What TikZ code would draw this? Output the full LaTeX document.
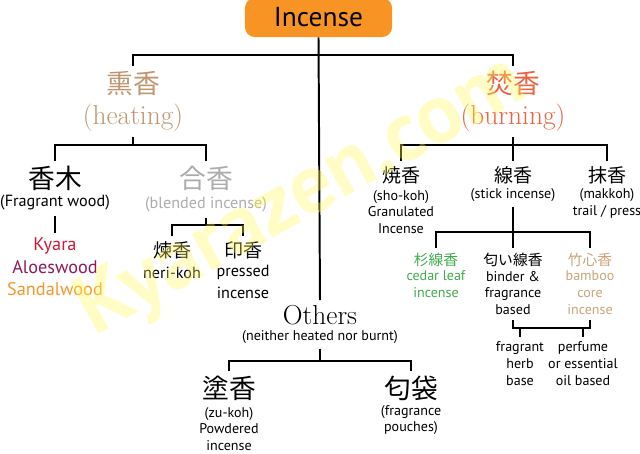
\documentclass[tikz,border=0pt]{standalone}
\usepackage{fontspec}
\newfontfamily\sansf{PT Sans}
\newfontfamily\cjk{Noto Sans CJK JP}
\usetikzlibrary{positioning}
\definecolor{boxorange}{RGB}{247,148,36}
\definecolor{heattan}{RGB}{190,150,112}
\definecolor{burnred}{RGB}{234,98,62}
\definecolor{blendgray}{RGB}{172,172,172}
\definecolor{kyarared}{RGB}{204,24,54}
\definecolor{aloepurple}{RGB}{142,24,92}
\definecolor{sandorange}{RGB}{246,150,40}
\definecolor{cedargreen}{RGB}{62,172,74}
\definecolor{bambootan}{RGB}{202,164,122}
\definecolor{markyellow}{RGB}{255,250,90}

\begin{document}
\begin{tikzpicture}[x=0.025cm,y=-0.025cm,
  branch/.style={line width=1.4pt},
  jp big/.style={font=\cjk\fontsize{19}{19}\selectfont},
  jp mid/.style={font=\cjk\fontsize{13.5}{13.5}\selectfont},
  jp small/.style={font=\cjk\fontsize{10.5}{10.5}\selectfont},
  serif big/.style={font=\fontsize{19.5}{19.5}\selectfont},
  txt big/.style={font=\sansf\fontsize{11.5}{16}\selectfont,align=center},
  txt mid/.style={font=\sansf\fontsize{10}{12}\selectfont,align=center},
  txt small/.style={font=\sansf\fontsize{10}{12}\selectfont,align=center}]
\useasboundingbox (0,0) rectangle (640,454);
% root
\node[fill=boxorange,rounded corners=7pt,minimum width=3.675cm,minimum height=0.975cm,
  font=\sansf\fontsize{19.5}{19.5}\selectfont] (inc) at (318.5,17.5) {Incense};
\coordinate (topbar) at (0,55);
% heating side
\node[jp big,text=heattan] (heat) at (133,83) {熏香};
\node[serif big,text=heattan] (heatsub) at (133,118) {(heating)};
\coordinate (heatbar) at (0,145);
\node[jp big] (wood) at (55,178) {香木};
\node[txt big] (woodsub) at (55,203) {(Fragrant wood)};
\node[txt big,font=\sansf\fontsize{13}{16}\selectfont] (kinds) at (55,267) {\textcolor{kyarared}{Kyara}\\\textcolor{aloepurple}{Aloeswood}\\\textcolor{sandorange}{Sandalwood}};
\node[jp big,text=blendgray] (blend) at (206,178) {合香};
\node[txt big,text=blendgray] (blendsub) at (206,205) {(blended incense)};
\coordinate (blendbar) at (0,225);
\node[jp mid] (neri) at (172,250) {煉香};
\node[txt big] (nerisub) at (172,273) {neri-koh};
\node[jp mid] (press) at (243,250) {印香};
\node[txt big] (presssub) at (243,282) {pressed\\incense};
% burning side
\node[jp big,text=burnred] (burn) at (513,83) {焚香};
\node[serif big,text=burnred] (burnsub) at (513,118) {(burning)};
\coordinate (burnbar) at (0,145);
\node[jp mid] (sho) at (401,175) {焼香};
\node[txt small] (shosub) at (401,212) {(sho-koh)\\Granulated\\Incense};
\node[jp mid] (stick) at (513,175) {線香};
\node[txt small] (sticksub) at (513,195) {(stick incense)};
\node[jp mid] (mak) at (607,175) {抹香};
\node[txt small] (maksub) at (607,203.5) {(makkoh)\\trail / press};
\coordinate (stickbar) at (0,232);
\node[jp small,text=cedargreen] (cedar) at (436,260) {杉線香};
\node[txt small,text=cedargreen] (cedarsub) at (436,284.5) {cedar leaf\\incense};
\node[jp small] (binder) at (513,260) {匂い線香};
\node[txt small] (bindersub) at (513,293) {binder \&\\fragrance\\based};
\node[jp small,text=bambootan] (bamboo) at (590,260) {竹心香};
\node[txt small,text=bambootan] (bamboosub) at (590,293) {bamboo\\core\\incense};
\coordinate (binderbar) at (0,328);
\node[txt small] (herb) at (520,363.5) {fragrant\\herb\\base};
\node[txt small] (perfume) at (583,363.5) {perfume\\or essential\\oil based};
% neither heated nor burnt
\node[serif big] (others) at (320,315) {Others};
\node[txt mid] (otherssub) at (320,337) {(neither heated nor burnt)};
\coordinate (othersbar) at (0,361);
\node[jp big] (zu) at (229,388) {塗香};
\node[txt mid] (zusub) at (229,429) {(zu-koh)\\Powdered\\incense};
\node[jp big] (pouch) at (411,388) {匂袋};
\node[txt mid] (pouchsub) at (411,420) {(fragrance\\pouches)};
% connectors
\draw[branch] (inc.south) -- (others.north);
\draw[branch] (heat.north) -- (heat.north |- topbar) -- (burn.north |- topbar) -- (burn.north);
\draw[branch] (heatsub.south) -- (heatsub.south |- heatbar);
\draw[branch] (wood.north) -- (wood.north |- heatbar) -- (blend.north |- heatbar) -- (blend.north);
\draw[branch] (woodsub.south) -- (kinds.north);
\draw[branch] (blendsub.south) -- (blendsub.south |- blendbar);
\draw[branch] (neri.north) -- (neri.north |- blendbar) -- (press.north |- blendbar) -- (press.north);
\draw[branch] (burnsub.south) -- (stick.north);
\draw[branch] (sho.north) -- (sho.north |- burnbar) -- (mak.north |- burnbar) -- (mak.north);
\draw[branch] (sticksub.south) -- (binder.north);
\draw[branch] (cedar.north) -- (cedar.north |- stickbar) -- (bamboo.north |- stickbar) -- (bamboo.north);
\draw[branch] (bindersub.south) -- (bindersub.south |- binderbar) -- (bamboosub.south |- binderbar) -- (bamboosub.south);
\draw[branch] (herb.north |- binderbar) -- (herb.north);
\draw[branch] (perfume.north |- binderbar) -- (perfume.north);
\draw[branch] (otherssub.south) -- (otherssub.south |- othersbar);
\draw[branch] (zu.north) -- (zu.north |- othersbar) -- (pouch.north |- othersbar) -- (pouch.north);
% watermark laid over the chart
\node[rotate=29,text=markyellow,text opacity=0.35,font=\sansf\bfseries\fontsize{60}{60}\selectfont] (mark) at (302,198) {Kyarazen.com};
\end{tikzpicture}
\end{document}
